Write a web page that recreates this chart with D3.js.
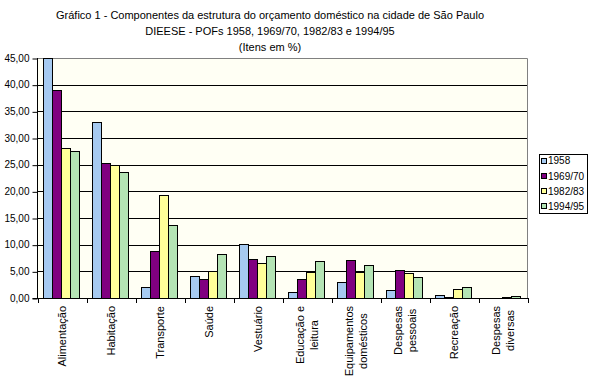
<!DOCTYPE html>
<html><head><meta charset="utf-8">
<script src="https://cdn.jsdelivr.net/npm/d3@7"></script>
<style>body{margin:0;background:#fff}svg{display:block;font-family:"Liberation Sans",Arial,sans-serif}</style>
</head><body><svg id="c" width="600" height="377"></svg>
<script>
const titleLines = ["Gráfico 1 - Componentes da estrutura do orçamento doméstico na cidade de São Paulo","DIEESE - POFs 1958, 1969/70, 1982/83 e 1994/95","(Itens em %)"];
const categories = [["Alimentação"],["Habitação"],["Transporte"],["Saúde"],["Vestuário"],["Educação e","leitura"],["Equipamentos","domésticos"],["Despesas","pessoais"],["Recreação"],["Despesas","diversas"]];
const seriesNames = ["1958","1969/70","1982/83","1994/95"];
const s1958   = [45.00, 33.00, 2.00, 4.06, 10.06, 1.06, 2.93, 1.50, 0.56, 0.00];
const s1969   = [39.00, 25.25, 8.81, 3.50, 7.38, 3.56, 7.12, 5.25, 0.22, 0.00];
const s1982   = [28.07, 24.90, 19.25, 5.00, 6.50, 4.87, 4.87, 4.62, 1.62, 0.19];
const s1994   = [27.56, 23.60, 13.69, 8.20, 7.81, 6.94, 6.12, 3.87, 2.00, 0.31];
const yTicks  = [0,5,10,15,20,25,30,35,40,45];
const colors  = ["#A6CAF0","#800080","#FFFF99","#B4E4B4"];

const seriesVals = [s1958, s1969, s1982, s1994];
const svg = d3.select("#c");
const L = 37.5, R = 527.5, T = 58, B = 298;

svg.append("g").selectAll("text").data(titleLines).join("text")
  .attr("x", 270).attr("y", (d,i)=>19+i*16).attr("text-anchor","middle")
  .attr("font-size",11).attr("fill","#000").text(d=>d);

const x0 = d3.scaleBand().domain(d3.range(categories.length)).range([L,R]).padding(0);
const bw = x0.bandwidth();
const x1 = d3.scaleBand().domain(d3.range(seriesNames.length)).range([bw*0.12, bw*0.12+36]).padding(0);
const y = d3.scaleLinear().domain([0,45]).range([B,T]);

svg.append("rect").attr("x",L).attr("y",T).attr("width",R-L).attr("height",B-T).attr("fill","#FFFFF4");

// gridlines
svg.append("g").selectAll("line").data(yTicks.filter(t=>t>0 && t<45)).join("line")
  .attr("x1",L).attr("x2",R).attr("y1",d=>Math.round(y(d))+0.5).attr("y2",d=>Math.round(y(d))+0.5)
  .attr("stroke","#000").attr("stroke-width",1);
// plot border top/right gray
svg.append("path").attr("d",`M${L},${T+0.5}H${R}V${B}`).attr("fill","none").attr("stroke","#808080");

// bars
const data = [];
categories.forEach((c,i)=>seriesVals.forEach((s,j)=>data.push({i,j,v:s[i]})));
svg.append("g").selectAll("rect").data(data.filter(d=>d.v>0)).join("rect")
  .attr("x",d=>Math.round(x0(d.i)+x1(d.j))+0.5)
  .attr("y",d=>Math.round(y(d.v))+0.5)
  .attr("width",9)
  .attr("height",d=>B-Math.round(y(d.v)))
  .attr("fill",d=>colors[d.j]).attr("stroke","#000").attr("stroke-width",1);

// y axis
const ya = svg.append("g").attr("transform",`translate(${L},0)`)
  .call(d3.axisLeft(y).tickValues(yTicks).tickSize(5).tickPadding(3).tickFormat(d=>d3.format(".2f")(d).replace(".",",")));
ya.select(".domain").remove();
ya.append("line").attr("x1",0).attr("x2",0).attr("y1",T).attr("y2",B).attr("stroke","#000");
ya.selectAll(".tick line").attr("stroke","#000").attr("transform","translate(0,0.5)");
ya.selectAll(".tick text").attr("font-size",10).attr("font-family","Liberation Sans, Arial, sans-serif").attr("fill","#000");

// x axis
const xa = svg.append("g");
xa.append("line").attr("x1",L-5).attr("x2",R+1).attr("y1",B+0.5).attr("y2",B+0.5).attr("stroke","#000");
xa.selectAll("line.t").data(d3.range(categories.length+1)).join("line").attr("class","t")
  .attr("x1",d=>Math.round(L+d*bw)+0.5).attr("x2",d=>Math.round(L+d*bw)+0.5)
  .attr("y1",B).attr("y2",B+5).attr("stroke","#000");

// category labels rotated
const lh = 14;
categories.forEach((lines,i)=>{
  const cx = x0(i)+bw/2;
  const g = svg.append("g");
  const texts = lines.map((t,k)=>g.append("text").attr("font-size",11).attr("fill","#000").attr("text-anchor","middle").text(t));
  const maxW = d3.max(texts, t=>t.node().getComputedTextLength());
  const top = 306;
  const n = lines.length;
  texts.forEach((t,k)=>{
    const px = cx + (k-(n-1)/2)*lh + 4;
    const py = top + maxW/2;
    t.attr("transform",`translate(${px},${py}) rotate(-90)`).attr("x",0).attr("y",0);
  });
});

// legend
const lg = svg.append("g");
lg.append("rect").attr("x",539.5).attr("y",154.5).attr("width",48).attr("height",59).attr("fill","#fff").attr("stroke","#000");
seriesNames.forEach((s,j)=>{
  const cy = 160.5 + j*15.2;
  lg.append("rect").attr("x",541.5).attr("y",Math.round(cy-3)+0.5).attr("width",5).attr("height",5).attr("fill",colors[j]).attr("stroke","#000");
  lg.append("text").attr("x",548).attr("y",cy+3.8).attr("font-size",10).attr("fill","#000").text(s);
});
</script></body></html>
